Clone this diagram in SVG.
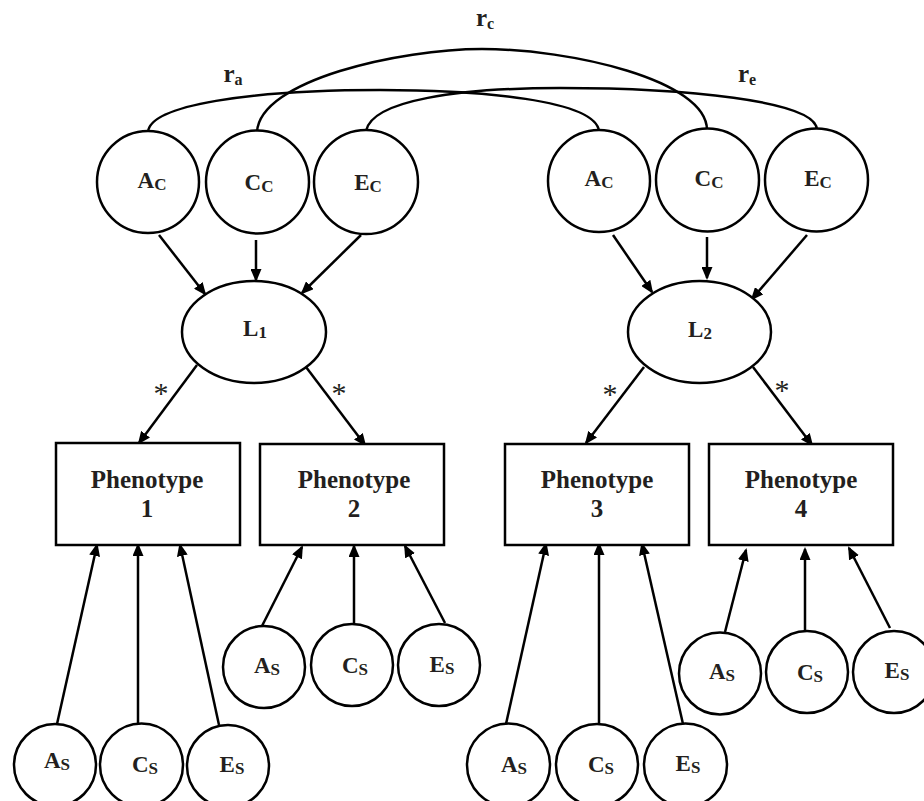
<svg xmlns="http://www.w3.org/2000/svg" width="924" height="801" viewBox="0 0 924 801">
<defs>
<style>
.n{fill:#fff;stroke:#000;stroke-width:2.5}
.t{font-family:"Liberation Serif","Times New Roman",serif;font-weight:bold;fill:#231f20;text-anchor:middle}
.big{font-size:23px}
.r{font-size:25px}
.ph{font-size:25px}
.c{fill:none;stroke:#000;stroke-width:2.5}
.a{fill:none;stroke:#000;stroke-width:2.5;marker-end:url(#ah)}
.ast{font-family:"Liberation Serif","Times New Roman",serif;font-size:30px;fill:#231f20;text-anchor:middle}
</style>
<marker id="ah" markerUnits="userSpaceOnUse" viewBox="0 0 13 11" markerWidth="13" markerHeight="11" refX="11" refY="5.5" orient="auto">
<path d="M0,0 L13,5.5 L0,11 z" fill="#000"/>
</marker>
</defs>
<rect width="924" height="801" fill="#fff"/>

<g id="connectors">
<path class="c" d="M148,132 C150,105 250,90 380,90 C480,90 595,100 599,131"/>
<path class="c" d="M257,132 C260,80 400,49 482,49 C570,49 707,80 707,130"/>
<path class="c" d="M366,131 C372,100 460,88 560,88 C680,88 817,100 817,130"/>
<line class="a" x1="159" y1="235" x2="205" y2="294"/>
<line class="a" x1="256" y1="240" x2="256" y2="280"/>
<line class="a" x1="361" y1="235" x2="302" y2="293"/>
<line class="a" x1="613" y1="235" x2="652" y2="292"/>
<line class="a" x1="707" y1="237" x2="707" y2="278"/>
<line class="a" x1="807" y1="235" x2="752" y2="299"/>
<line class="a" x1="197" y1="365" x2="139" y2="443"/>
<line class="a" x1="306" y1="367" x2="365" y2="445"/>
<line class="a" x1="644" y1="367" x2="586" y2="443"/>
<line class="a" x1="753" y1="367" x2="812" y2="445"/>
<line class="a" x1="57" y1="724" x2="97" y2="545"/>
<line class="a" x1="138" y1="724" x2="138" y2="545"/>
<line class="a" x1="219" y1="725" x2="180" y2="545"/>
<line class="a" x1="262" y1="626" x2="302" y2="547"/>
<line class="a" x1="354" y1="623" x2="354" y2="546"/>
<line class="a" x1="445" y1="623" x2="405" y2="546"/>
<line class="a" x1="506" y1="724" x2="546" y2="544"/>
<line class="a" x1="599" y1="724" x2="599" y2="544"/>
<line class="a" x1="683" y1="724" x2="642" y2="544"/>
<line class="a" x1="725" y1="632" x2="746" y2="550"/>
<line class="a" x1="805" y1="631" x2="805" y2="549"/>
<line class="a" x1="890" y1="628" x2="849" y2="548"/>
<text class="t r" x="485" y="26">r<tspan font-size="16" dy="3">c</tspan></text>
<text class="t r" x="233" y="82">r<tspan font-size="16" dy="3">a</tspan></text>
<text class="t r" x="747" y="82">r<tspan font-size="16" dy="3">e</tspan></text>
<text class="ast" x="161" y="403">*</text>
<text class="ast" x="339" y="403">*</text>
<text class="ast" x="610" y="404">*</text>
<text class="ast" x="782" y="400">*</text>
</g>

<g id="Ac1"><circle class="n" cx="148" cy="182" r="51"/><text class="t big" x="152" y="188">A<tspan font-size="17" dy="2">C</tspan></text></g>
<g id="Cc1"><circle class="n" cx="257.5" cy="182" r="51.5"/><text class="t big" x="259" y="190">C<tspan font-size="17" dy="2">C</tspan></text></g>
<g id="Ec1"><circle class="n" cx="366" cy="182" r="52"/><text class="t big" x="368" y="190">E<tspan font-size="17" dy="2">C</tspan></text></g>
<g id="Ac2"><circle class="n" cx="599" cy="181" r="51"/><text class="t big" x="599" y="186">A<tspan font-size="17" dy="2">C</tspan></text></g>
<g id="Cc2"><circle class="n" cx="707.5" cy="180" r="51.5"/><text class="t big" x="709" y="186">C<tspan font-size="17" dy="2">C</tspan></text></g>
<g id="Ec2"><circle class="n" cx="816.5" cy="180" r="51.5"/><text class="t big" x="818" y="186">E<tspan font-size="17" dy="2">C</tspan></text></g>

<g id="L1"><ellipse class="n" cx="254" cy="332" rx="72" ry="51"/><text class="t big" x="255" y="336">L<tspan font-size="17" dy="2">1</tspan></text></g>
<g id="L2"><ellipse class="n" cx="699.5" cy="332" rx="71.5" ry="51"/><text class="t big" x="700" y="337">L<tspan font-size="17" dy="2">2</tspan></text></g>

<g id="P1"><rect class="n" x="56" y="443" width="184" height="102"/><text class="t ph" x="147" y="488">Phenotype</text><text class="t ph" x="147" y="517">1</text></g>
<g id="P2"><rect class="n" x="260" y="444" width="184" height="101"/><text class="t ph" x="354" y="488">Phenotype</text><text class="t ph" x="354" y="517">2</text></g>
<g id="P3"><rect class="n" x="505" y="444" width="184" height="101"/><text class="t ph" x="597" y="488">Phenotype</text><text class="t ph" x="597" y="517">3</text></g>
<g id="P4"><rect class="n" x="709" y="444" width="184" height="101"/><text class="t ph" x="801" y="488">Phenotype</text><text class="t ph" x="801" y="517">4</text></g>

<g id="As1"><circle class="n" cx="55" cy="765" r="41"/><text class="t big" x="57" y="768">A<tspan font-size="17" dy="2">S</tspan></text></g>
<g id="Cs1"><circle class="n" cx="141.5" cy="765" r="41.5"/><text class="t big" x="145" y="772">C<tspan font-size="17" dy="2">S</tspan></text></g>
<g id="Es1"><circle class="n" cx="228" cy="766" r="41"/><text class="t big" x="232" y="772">E<tspan font-size="17" dy="2">S</tspan></text></g>
<g id="As2"><circle class="n" cx="264" cy="667" r="41"/><text class="t big" x="267" y="673">A<tspan font-size="17" dy="2">S</tspan></text></g>
<g id="Cs2"><circle class="n" cx="352" cy="665" r="41"/><text class="t big" x="355" y="673">C<tspan font-size="17" dy="2">S</tspan></text></g>
<g id="Es2"><circle class="n" cx="439" cy="665" r="41"/><text class="t big" x="442" y="672">E<tspan font-size="17" dy="2">S</tspan></text></g>
<g id="As3"><circle class="n" cx="508.5" cy="765" r="41.5"/><text class="t big" x="514" y="772">A<tspan font-size="17" dy="2">S</tspan></text></g>
<g id="Cs3"><circle class="n" cx="597" cy="765" r="41"/><text class="t big" x="601" y="772">C<tspan font-size="17" dy="2">S</tspan></text></g>
<g id="Es3"><circle class="n" cx="685.5" cy="765" r="41.5"/><text class="t big" x="688" y="771">E<tspan font-size="17" dy="2">S</tspan></text></g>
<g id="As4"><circle class="n" cx="720" cy="673.5" r="41"/><text class="t big" x="722" y="679">A<tspan font-size="17" dy="2">S</tspan></text></g>
<g id="Cs4"><circle class="n" cx="807" cy="672" r="41"/><text class="t big" x="810" y="680">C<tspan font-size="17" dy="2">S</tspan></text></g>
<g id="Es4"><circle class="n" cx="894" cy="672" r="41"/><text class="t big" x="897" y="678">E<tspan font-size="17" dy="2">S</tspan></text></g>
</svg>
